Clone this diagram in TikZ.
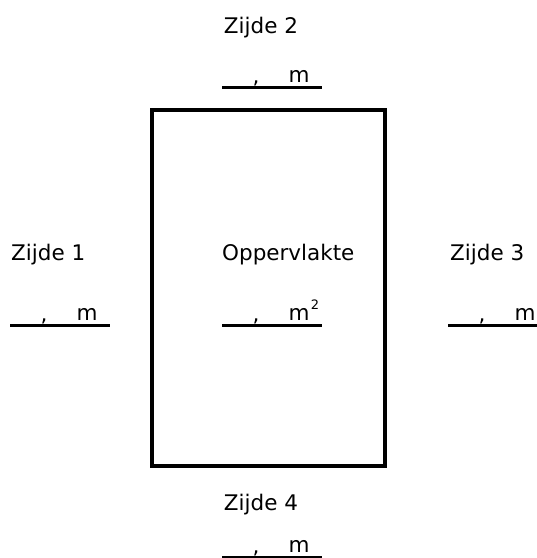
\documentclass[tikz,border=0pt]{standalone}
\usepackage{fontspec}
\setmainfont{DejaVu Sans}
\newcommand{\tekst}{\fontsize{21.5}{25}\selectfont}

\begin{document}
\begin{tikzpicture}[x=1pt,y=-1pt,every node/.style={font=\tekst,inner sep=0pt}]
\useasboundingbox (0,0) rectangle (537,558);
%draw the field
\draw[line width=4pt] (152,110) rectangle (385,466);
%draw labels
\node[anchor=base] (z2) at (261,33) {Zijde 2};
\node[anchor=base west] (z1) at (11,260) {Zijde 1};
\node[anchor=base west] (opp) at (222,260) {Oppervlakte};
\node[anchor=base west] (z3) at (450,260) {Zijde 3};
\node[anchor=base] (z4) at (261,510) {Zijde 4};
%draw answer lines with comma and unit
\foreach \n/\x/\y in {b2/222/87,b1/10/325,bo/222/325,b3/448/325,b4/222/557}{
  \draw[line width=3pt] (\x,\y) -- ++(100,0);
  \node[anchor=base] (\n-komma) at (\x+34,\y-4) {,};
  \node[anchor=base] (\n-m) at (\x+77,\y-5) {m};
}
\node[anchor=south west,font=\fontsize{13}{15}\selectfont] (bo-kw) at ([xshift=1pt,yshift=-2pt]bo-m.north east) {2};
\end{tikzpicture}
\end{document}
